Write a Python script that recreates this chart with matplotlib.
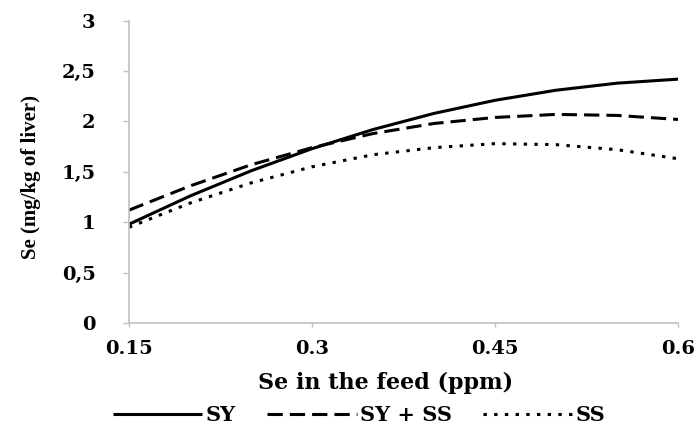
import matplotlib
matplotlib.use("Agg")
import matplotlib.pyplot as plt

# values
feed = [0.15, 0.20, 0.25, 0.30, 0.35, 0.40, 0.45, 0.50, 0.55, 0.60]
sy = [0.98, 1.26, 1.51, 1.73, 1.92, 2.08, 2.21, 2.31, 2.38, 2.42]
sy_ss = [1.12, 1.36, 1.57, 1.74, 1.88, 1.98, 2.04, 2.07, 2.06, 2.02]
ss = [0.95, 1.19, 1.39, 1.55, 1.67, 1.74, 1.78, 1.77, 1.72, 1.63]

x_ticks = [0.15, 0.3, 0.45, 0.6]
x_tick_labels = ["0.15", "0.3", "0.45", "0.6"]
y_ticks = [0, 0.5, 1, 1.5, 2, 2.5, 3]
y_tick_labels = ["0", "0,5", "1", "1,5", "2", "2,5", "3"]

tick_font = {"family": "DejaVu Serif", "weight": "bold", "size": 14}
grey = "#c0c0c0"

fig = plt.figure(figsize=(7, 4.25), dpi=100)
ax = fig.add_axes([0.1843, 0.24, 0.7843, 0.7113])

l1, = ax.plot(feed, sy, color="black", lw=2.2, solid_capstyle="butt")
l2, = ax.plot(feed, sy_ss, color="black", lw=2.2, dashes=(5, 2.3))
l3, = ax.plot(feed, ss, color="black", lw=2.2, dashes=(1.1, 2.4))

ax.set_xlim(0.15, 0.6)
ax.set_ylim(0, 3)

ax.set_xticks(x_ticks)
ax.set_xticklabels(x_tick_labels, fontdict=tick_font)
ax.set_yticks(y_ticks)
ax.set_yticklabels(y_tick_labels, fontdict=tick_font)

for side in ["top", "right"]:
    ax.spines[side].set_visible(False)
for side in ["left", "bottom"]:
    ax.spines[side].set_color(grey)
    ax.spines[side].set_linewidth(1.2)

ax.tick_params(axis="y", length=4, width=1, color=grey, pad=20)
ax.tick_params(axis="x", length=3, width=1, color=grey, pad=9)

ax.set_xlabel("Se in the feed (ppm)", family="DejaVu Serif",
              weight="bold", size=16)
ax.xaxis.set_label_coords(0.468, -0.162)
ax.set_ylabel("Se (mg/kg of liver)", family="Liberation Serif",
              weight="bold", size=15)
ax.yaxis.set_label_coords(-0.16, 0.483)

fig.legend([l1, l2, l3], ["SY", "SY + SS", "SS"], loc="center",
           bbox_to_anchor=(0.513, 0.024), ncol=3, frameon=False,
           handlelength=4.3, handletextpad=0.15, columnspacing=1.5,
           prop={"family": "DejaVu Serif", "weight": "bold", "size": 15})

fig.savefig("out.png", dpi=100)
